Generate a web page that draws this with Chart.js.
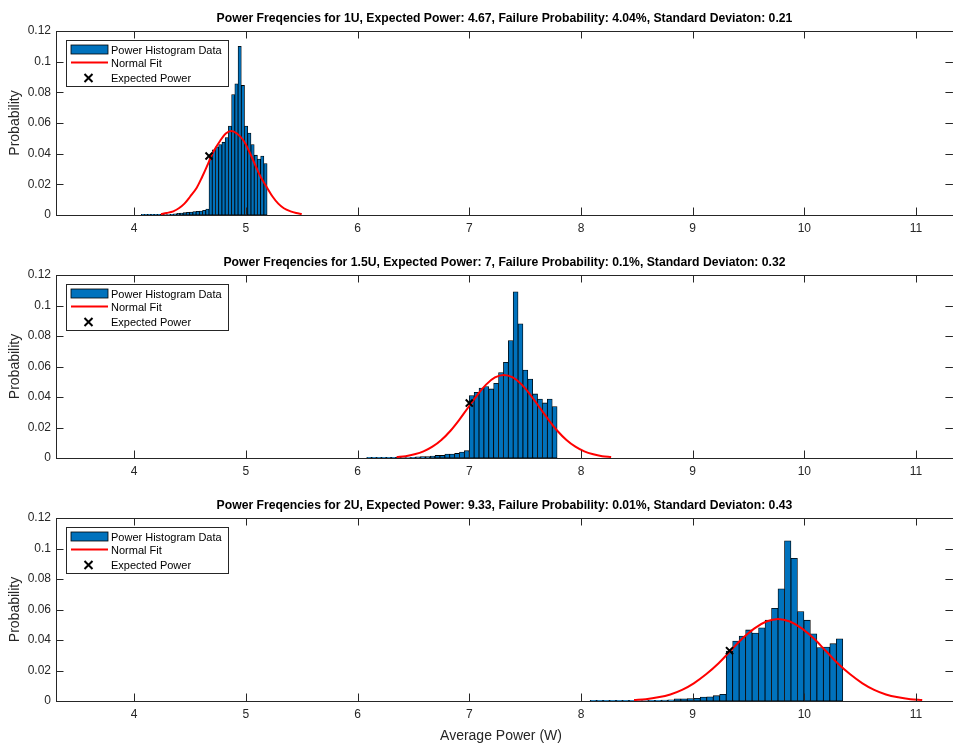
<!DOCTYPE html>
<html>
<head>
<meta charset="utf-8">
<script src="https://cdn.jsdelivr.net/npm/chart.js@4.4.1/dist/chart.umd.min.js"></script>
<style>
  html, body { margin: 0; padding: 0; background: #fff; overflow: hidden; }
  #wrap { position: relative; width: 953px; height: 749px; }
  #wrap canvas { position: absolute; left: 0; top: 0; }
</style>
</head>
<body>
<div id="wrap">
  <canvas id="c1" width="953" height="749"></canvas>
  <canvas id="c2" width="953" height="749"></canvas>
  <canvas id="c3" width="953" height="749"></canvas>
</div>
<script>
// ======================
// DATA
// ======================
const xTicks = [4, 5, 6, 7, 8, 9, 10, 11];
const yTicks = [0, 0.02, 0.04, 0.06, 0.08, 0.1, 0.12];
const yTickLabels = ['0', '0.02', '0.04', '0.06', '0.08', '0.1', '0.12'];

const titles = [
  'Power Freqencies for 1U, Expected Power: 4.67, Failure Probability: 4.04%, Standard Deviaton: 0.21',
  'Power Freqencies for 1.5U, Expected Power: 7, Failure Probability: 0.1%, Standard Deviaton: 0.32',
  'Power Freqencies for 2U, Expected Power: 9.33, Failure Probability: 0.01%, Standard Deviaton: 0.43'
];

// histogram bins (first edge, width)
const binStart = [4.063, 6.082, 8.082];
const binWidth = [0.0289, 0.0437, 0.058];

const hist1U = [0.0004, 0.0004, 0.0004, 0.0004, 0.0004, 0.0004, 0.0004, 0.0002, 0.0002, 0.0004,
  0.0008, 0.0011, 0.0013, 0.0015, 0.0017, 0.0019, 0.0022, 0.0024, 0.0026, 0.003, 0.0039,
  0.0385, 0.0425, 0.0445, 0.046, 0.0475, 0.0505, 0.058, 0.0785, 0.0855, 0.110,
  0.0845, 0.058, 0.0535, 0.046, 0.039, 0.0365, 0.0385, 0.0335];
const hist15U = [0.0004, 0.0004, 0.0004, 0.0004, 0.0004, 0.0004, 0.0004, 0.0003, 0.0003, 0.0004,
  0.0007, 0.0009, 0.001, 0.0013, 0.0017, 0.0017, 0.0026, 0.0026, 0.003, 0.0039, 0.0048,
  0.041, 0.0431, 0.0459, 0.0468, 0.0453, 0.049, 0.056, 0.0628, 0.077, 0.109,
  0.088, 0.0577, 0.0518, 0.042, 0.0387, 0.0361, 0.0387, 0.0337];
const hist2U = [0.0004, 0.0004, 0.0004, 0.0004, 0.0004, 0.0004, 0.0004, 0.0003, 0.0003, 0.0004,
  0.0005, 0.0006, 0.0008, 0.0015, 0.0015, 0.0016, 0.0018, 0.0026, 0.0027, 0.0035, 0.0044,
  0.0328, 0.0393, 0.0426, 0.0466, 0.0446, 0.048, 0.053, 0.0608, 0.0736, 0.105,
  0.0936, 0.0586, 0.053, 0.0441, 0.035, 0.0354, 0.0376, 0.0408];

// normal fit curves
const fitX1U = [4.24, 4.29, 4.35, 4.40, 4.45, 4.50, 4.56, 4.61, 4.66, 4.71, 4.77, 4.82, 4.87,
  4.92, 4.98, 5.03, 5.08, 5.13, 5.19, 5.24, 5.29, 5.34, 5.40, 5.45, 5.50];
const fitY1U = [0.0006, 0.0013, 0.0024, 0.0044, 0.0074, 0.0119, 0.0178, 0.0251, 0.0332, 0.0414, 0.0484, 0.0531, 0.0548,
  0.0531, 0.0484, 0.0414, 0.0332, 0.0251, 0.0178, 0.0119, 0.0074, 0.0044, 0.0024, 0.0013, 0.0006];
const fitX15U = [6.35, 6.43, 6.51, 6.59, 6.67, 6.75, 6.83, 6.91, 6.99, 7.07, 7.15, 7.23, 7.31,
  7.39, 7.47, 7.55, 7.63, 7.71, 7.79, 7.87, 7.95, 8.03, 8.11, 8.19, 8.27];
const fitY15U = [0.0006, 0.0012, 0.0024, 0.0043, 0.0074, 0.0118, 0.0177, 0.0250, 0.0331, 0.0411, 0.0481, 0.0528, 0.0545,
  0.0528, 0.0481, 0.0411, 0.0331, 0.0250, 0.0177, 0.0118, 0.0074, 0.0043, 0.0024, 0.0012, 0.0006];
const fitX2U = [8.475, 8.58, 8.69, 8.80, 8.905, 9.01, 9.12, 9.23, 9.335, 9.44, 9.55, 9.66, 9.765,
  9.87, 9.98, 10.09, 10.195, 10.30, 10.41, 10.52, 10.625, 10.73, 10.84, 10.95, 11.055];
const fitY2U = [0.0006, 0.0012, 0.0024, 0.0043, 0.0073, 0.0116, 0.0175, 0.0246, 0.0326, 0.0406, 0.0475, 0.0521, 0.0538,
  0.0521, 0.0475, 0.0406, 0.0326, 0.0246, 0.0175, 0.0116, 0.0073, 0.0043, 0.0024, 0.0012, 0.0006];

// expected power markers
const expectedX = [4.67, 7, 9.33];
const expectedY = [0.0385, 0.036, 0.033];

// ======================
// STYLE / LAYOUT
// ======================
const FONT = '"Liberation Sans", Arial, Helvetica, sans-serif';
const BAR_BLUE = '#0072BD';
const AXIS = '#262626';
const plotTops = [31, 275, 518];
const plotBottoms = [215, 458, 701];
const xMin = 3.3;
const xVisibleMax = 11.268;  // value at the picture's right edge
const xAxisMax = 11.33;      // axes box ends a little past the edge

Chart.defaults.font.family = FONT;
Chart.defaults.color = AXIS;

// box, inward ticks, title and legend, MATLAB style
const framePlugin = {
  id: 'frame',
  afterDatasetsDraw(chart, args, opts) {
    const { ctx, chartArea: a, scales: { x, y } } = chart;
    const tl = 7.5;
    const right = x.getPixelForValue(xAxisMax);
    ctx.save();
    ctx.strokeStyle = AXIS;
    ctx.lineWidth = 1;
    ctx.beginPath();
    ctx.rect(Math.round(a.left) + 0.5, Math.round(a.top) + 0.5,
      Math.round(right - a.left), Math.round(a.bottom - a.top));
    x.ticks.forEach(t => {
      const px = Math.round(x.getPixelForValue(t.value)) + 0.5;
      ctx.moveTo(px, a.bottom); ctx.lineTo(px, a.bottom - tl);
      ctx.moveTo(px, a.top); ctx.lineTo(px, a.top + tl);
    });
    y.ticks.forEach(t => {
      const py = Math.round(y.getPixelForValue(t.value)) + 0.5;
      ctx.moveTo(a.left, py); ctx.lineTo(a.left + tl, py);
      ctx.moveTo(right, py); ctx.lineTo(right - tl, py);
    });
    ctx.stroke();

    // title
    ctx.fillStyle = '#000';
    ctx.font = 'bold 12.2px ' + FONT;
    ctx.textAlign = 'center';
    ctx.textBaseline = 'middle';
    ctx.fillText(opts.text, (a.left + right) / 2, a.top - 12);

    // legend box
    const L = Math.round(a.left) + 10, T = Math.round(a.top) + 9;
    ctx.fillStyle = '#fff';
    ctx.fillRect(L, T, 163, 46);
    ctx.strokeStyle = AXIS;
    ctx.lineWidth = 1;
    ctx.strokeRect(L + 0.5, T + 0.5, 162, 46);

    ctx.fillStyle = BAR_BLUE;
    ctx.fillRect(L + 5, T + 5, 37, 9);
    ctx.strokeStyle = '#000';
    ctx.lineWidth = 0.8;
    ctx.strokeRect(L + 5, T + 5, 37, 9);

    ctx.strokeStyle = '#ff0000';
    ctx.lineWidth = 2;
    ctx.beginPath();
    ctx.moveTo(L + 5, T + 22.5); ctx.lineTo(L + 42, T + 22.5);
    ctx.stroke();

    const mx = L + 22.5, my = T + 38, s = 4;
    ctx.strokeStyle = '#000';
    ctx.lineWidth = 2;
    ctx.beginPath();
    ctx.moveTo(mx - s, my - s); ctx.lineTo(mx + s, my + s);
    ctx.moveTo(mx - s, my + s); ctx.lineTo(mx + s, my - s);
    ctx.stroke();

    ctx.fillStyle = '#000';
    ctx.font = '11px ' + FONT;
    ctx.textAlign = 'left';
    ctx.fillText('Power Histogram Data', L + 45, T + 10.5);
    ctx.fillText('Normal Fit', L + 45, T + 23.5);
    ctx.fillText('Expected Power', L + 45, T + 38.5);
    ctx.restore();
  }
};

function buildChart(canvasId, idx, hist, fitX, fitY) {
  const bars = hist.map((v, i) => ({ x: binStart[idx] + (i + 0.5) * binWidth[idx], y: v }));
  const fit = fitX.map((v, i) => ({ x: v, y: fitY[i] }));
  const isLast = idx === 2;
  const axisH = isLast ? 44 : 30;

  return new Chart(document.getElementById(canvasId), {
    type: 'bar',
    data: {
      datasets: [
        {
          type: 'bar',
          label: 'Power Histogram Data',
          data: bars,
          backgroundColor: BAR_BLUE,
          borderColor: '#000',
          borderWidth: 0.8,
          borderSkipped: false,
          barPercentage: 1,
          categoryPercentage: 1,
          order: 3
        },
        {
          type: 'line',
          label: 'Normal Fit',
          data: fit,
          borderColor: '#ff0000',
          borderWidth: 2,
          pointRadius: 0,
          tension: 0.35,
          fill: false,
          order: 2
        },
        {
          type: 'line',
          label: 'Expected Power',
          data: [{ x: expectedX[idx], y: expectedY[idx] }],
          showLine: false,
          pointStyle: 'crossRot',
          pointRadius: 5,
          borderColor: '#000',
          borderWidth: 2,
          order: 1
        }
      ]
    },
    options: {
      responsive: false,
      animation: false,
      layout: { padding: { top: plotTops[idx], bottom: 749 - plotBottoms[idx] - axisH, left: 0, right: 1 } },
      plugins: {
        legend: { display: false },
        tooltip: { enabled: false },
        frame: { text: titles[idx] }
      },
      scales: {
        x: {
          type: 'linear',
          min: xMin,
          max: xVisibleMax,
          offset: false,
          grid: { display: false, drawTicks: false },
          border: { display: false },
          afterBuildTicks: s => { s.ticks = xTicks.map(v => ({ value: v })); },
          afterFit: s => { s.height = axisH; },
          ticks: { padding: 6, font: { size: 12 }, maxRotation: 0, autoSkip: false, callback: v => String(v) },
          title: { display: isLast, text: 'Average Power (W)', font: { size: 14 }, padding: { top: 0, bottom: 0 } }
        },
        y: {
          min: 0,
          max: 0.12,
          grid: { display: false, drawTicks: false },
          border: { display: false },
          afterBuildTicks: s => { s.ticks = yTicks.map(v => ({ value: v })); },
          afterFit: s => { s.width = 56; },
          ticks: { padding: 5, font: { size: 12 }, callback: (v, i) => yTickLabels[i] },
          title: { display: true, text: 'Probability', font: { size: 14 }, padding: { top: 7, bottom: 0 } }
        }
      }
    },
    plugins: [framePlugin]
  });
}

buildChart('c1', 0, hist1U, fitX1U, fitY1U);
buildChart('c2', 1, hist15U, fitX15U, fitY15U);
buildChart('c3', 2, hist2U, fitX2U, fitY2U);
</script>
</body>
</html>
